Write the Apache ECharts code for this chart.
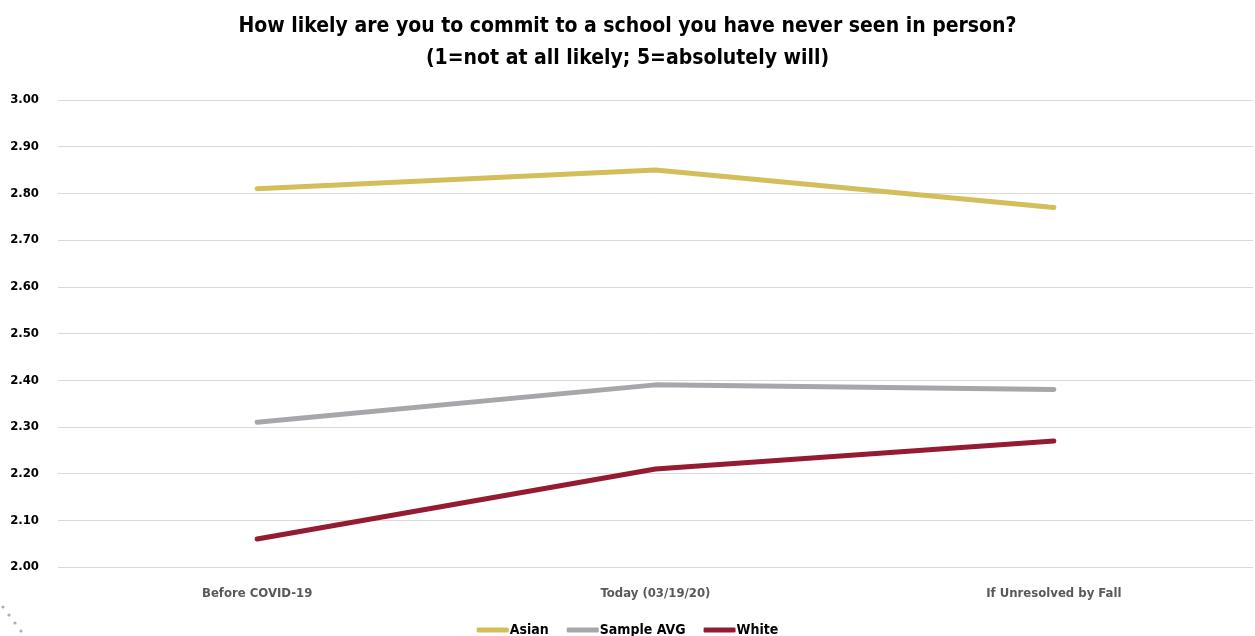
<!DOCTYPE html>
<html><head><meta charset="utf-8">
<script src="https://cdn.jsdelivr.net/npm/echarts@6/dist/echarts.min.js"></script>
<style>html,body{margin:0;padding:0;background:#fff}#c{width:1255px;height:636px}</style>
</head><body><div id="c"></div>
<script>
const categories = ['Before COVID-19', 'Today (03/19/20)', 'If Unresolved by Fall'];
const asian = [2.81, 2.85, 2.77];
const sampleAvg = [2.31, 2.39, 2.38];
const white = [2.06, 2.21, 2.27];
const FONT = '"Liberation Sans Narrow", "DejaVu Sans Condensed", "Roboto", sans-serif';
const chart = echarts.init(document.getElementById('c'));
const mk = (name, data, color) => ({
  name, type: 'line', data, symbol: 'none', smooth: false,
  lineStyle: { width: 5, color, cap: 'round' }, itemStyle: { color }
});
chart.setOption({
  animation: false,
  textStyle: { fontFamily: FONT },
  title: {
    text: 'How likely are you to commit to a school you have never seen in person?\n(1=not at all likely; 5=absolutely will)',
    left: 'center', top: 6,
    textStyle: { fontSize: 21, fontWeight: 'bold', color: '#000', lineHeight: 32, fontFamily: FONT }
  },
  legend: {
    bottom: -6, left: 'center', itemWidth: 32, itemHeight: 5, itemGap: 18,
    icon: 'roundRect',
    textStyle: { fontSize: 14, fontWeight: 'bold', color: '#000', fontFamily: FONT, padding: [0, 0, 0, -4] },
    data: ['Asian', 'Sample AVG', 'White']
  },
  grid: { left: 58, right: 2, top: 100, bottom: 69, containLabel: false },
  xAxis: {
    type: 'category', data: categories, boundaryGap: true,
    axisLine: { show: false }, axisTick: { show: false },
    axisLabel: { fontSize: 13, fontWeight: 'bold', color: '#595959', margin: 20, fontFamily: FONT }
  },
  yAxis: {
    type: 'value', min: 2, max: 3, interval: 0.1,
    axisLabel: { formatter: v => v.toFixed(2), fontSize: 13, fontWeight: 'bold', color: '#000', margin: 19, fontFamily: FONT },
    splitLine: { lineStyle: { color: '#d9d9d9', width: 1 } },
    axisLine: { show: false }, axisTick: { show: false }
  },
  series: [
    mk('Asian', asian, '#D4BE5C'),
    mk('Sample AVG', sampleAvg, '#A5A7AA'),
    mk('White', white, '#951B32')
  ],
  graphic: [0,1,2,3].map(i => ({
    type: 'circle', shape: { cx: 3 + i * 6, cy: 607 + i * 8, r: 1.6 }, style: { fill: '#b0b0b0' }, silent: true
  }))
});
</script></body></html>
